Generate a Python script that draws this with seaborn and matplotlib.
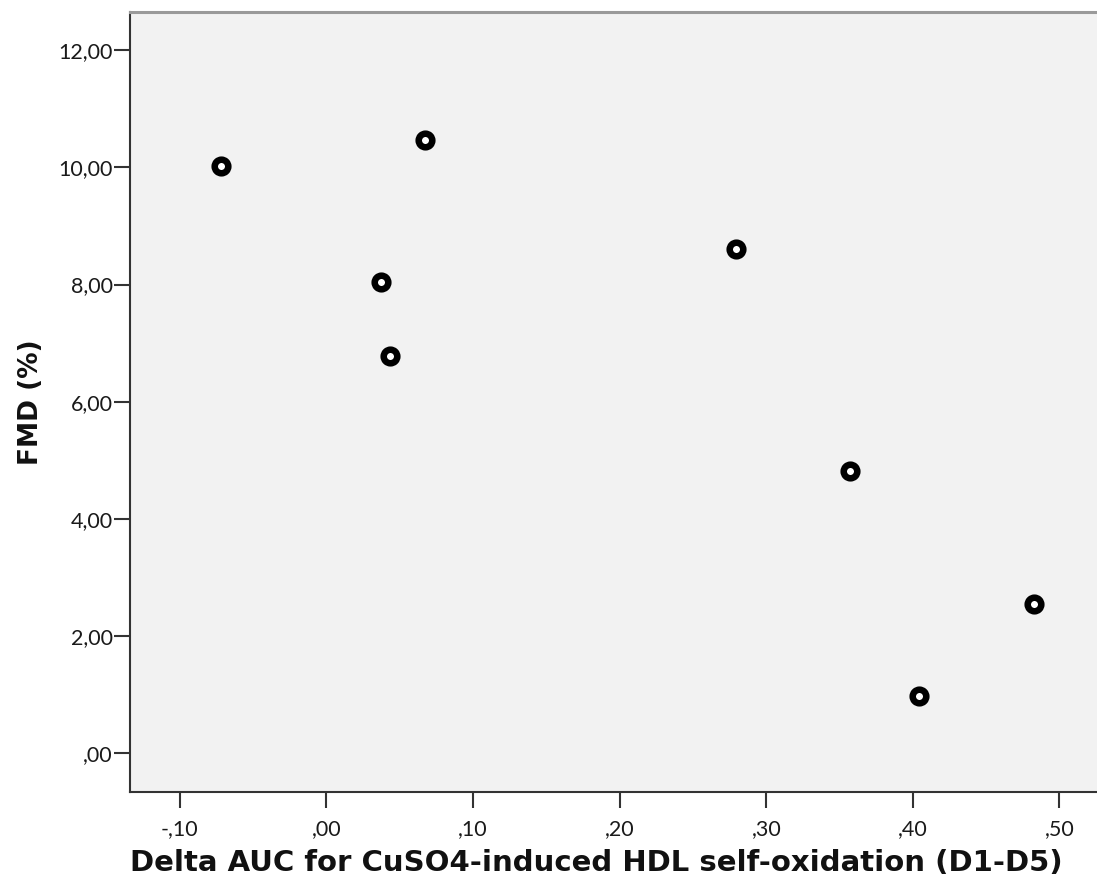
import matplotlib
matplotlib.use("Agg")
import matplotlib.pyplot as plt
import seaborn as sns
import pandas as pd

# Delta AUC (D1-D5) for CuSO4-induced HDL self-oxidation vs flow-mediated dilation
delta_auc = [-0.072, 0.0675, 0.0375, 0.0432, 0.2795, 0.3574, 0.4045, 0.4827]
fmd_pct = [10.02, 10.47, 8.05, 6.78, 8.60, 4.81, 0.98, 2.55]

x_ticks = [-0.10, 0.00, 0.10, 0.20, 0.30, 0.40, 0.50]
x_tick_labels = ["-,10", ",00", ",10", ",20", ",30", ",40", ",50"]
y_ticks = [0, 2, 4, 6, 8, 10, 12]
y_tick_labels = [",00", "2,00", "4,00", "6,00", "8,00", "10,00", "12,00"]

x_label = "Delta AUC for CuSO4-induced HDL self-oxidation (D1-D5)"
y_label = "FMD (%)"

df = pd.DataFrame({"auc": delta_auc, "fmd": fmd_pct})

sns.set_style("white")
plt.rcParams["font.family"] = ["Lato", "DejaVu Sans"]

fig = plt.figure(figsize=(10.97, 8.88), dpi=100)
ax = fig.add_axes([130 / 1097, 1 - 792 / 888, 1 - 130 / 1097, (792 - 12) / 888])
ax.set_facecolor("#f2f2f2")

sns.scatterplot(data=df, x="auc", y="fmd", ax=ax, marker="o", s=96,
                facecolor="white", edgecolor="black", linewidth=4.7, zorder=3)

ax.set_xlim(-0.134, 0.5256)
ax.set_ylim(-0.66, 12.65)
ax.set_xticks(x_ticks)
ax.set_xticklabels(x_tick_labels)
ax.set_yticks(y_ticks)
ax.set_yticklabels(y_tick_labels)

ax.tick_params(axis="both", direction="out", length=11.5, width=1.5,
               color="#333333", labelsize=15.5, labelcolor="#1a1a1a",
               bottom=True, left=True, top=False, right=False)
ax.tick_params(axis="x", pad=8)
ax.tick_params(axis="y", pad=1)

for side in ("left", "bottom"):
    ax.spines[side].set_color("#333333")
    ax.spines[side].set_linewidth(1.5)
ax.spines["top"].set_color("#9a9a9a")
ax.spines["top"].set_linewidth(2.2)
ax.spines["right"].set_visible(False)

ax.set_xlabel(x_label, fontsize=21, fontweight="bold", color="#111111",
              family=["DejaVu Sans"], labelpad=7)
ax.xaxis.label.set_x(0.482)
ax.set_ylabel(y_label, fontsize=19, fontweight="bold", color="#111111",
              family=["DejaVu Sans"], labelpad=10)

fig.savefig("out.png", dpi=100, facecolor="white")
